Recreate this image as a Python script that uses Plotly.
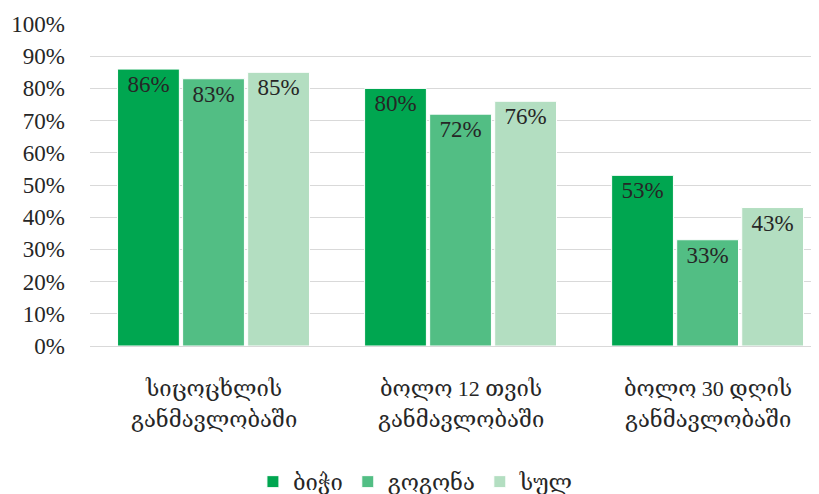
import plotly.graph_objects as go

categories = ["სიცოცხლის<br>განმავლობაში", "ბოლო 12 თვის<br>განმავლობაში", "ბოლო 30 დღის<br>განმავლობაში"]
series_names = ["ბიჭი", "გოგონა", "სულ"]
boys = [86, 80, 53]
girls = [83, 72, 33]
total = [85, 76, 43]
colors = ["#00A650", "#52BE84", "#B3DEC1"]
y_ticks = [0, 10, 20, 30, 40, 50, 60, 70, 80, 90, 100]

FONT = "Liberation Serif, DejaVu Serif, serif"
TXT = "#262626"

fig = go.Figure()
for name, vals, col in zip(series_names, [boys, girls, total], colors):
    fig.add_trace(go.Bar(
        x=categories, y=vals, name=name,
        marker=dict(color=col, line=dict(color="white", width=1)),
        text=[f"{v}%" for v in vals],
        textposition="inside", insidetextanchor="end",
        textangle=0,
        textfont=dict(family=FONT, size=23, color=TXT),
        cliponaxis=False,
    ))

# category labels, two lines each, placed under the axis
for cat in categories:
    for i, part in enumerate(cat.split("<br>")):
        fig.add_annotation(x=cat, y=0, xref="x", yref="y", text=part, showarrow=False,
                           yanchor="middle", yshift=-42 - 31 * i,
                           font=dict(family=FONT, size=22, color=TXT))

fig.update_layout(
    width=811, height=486,
    margin=dict(l=82, r=0, t=16, b=148),
    paper_bgcolor="white", plot_bgcolor="white",
    barmode="group", bargap=0.21, bargroupgap=0.05,
    font=dict(family=FONT, size=22, color=TXT),
    uniformtext=dict(mode=False),
    legend=dict(orientation="h", xref="container", x=0.503, xanchor="center",
                yref="container", y=0.025, yanchor="middle",
                font=dict(size=22), itemwidth=30, traceorder="normal"),
    showlegend=True,
)
fig.update_yaxes(range=[0, 100], tickvals=y_ticks, ticktext=[f"{v}%" for v in y_ticks],
                 showgrid=True, gridcolor="#D9D9D9", gridwidth=1,
                 zeroline=True, zerolinecolor="#D9D9D9", zerolinewidth=1,
                 ticks="", ticklabelstandoff=24, tickfont=dict(size=23), automargin=False)
fig.update_xaxes(showline=False, ticks="", showticklabels=False, range=[-0.5, 2.451],
                 automargin=False)

fig.write_html("out.html")
